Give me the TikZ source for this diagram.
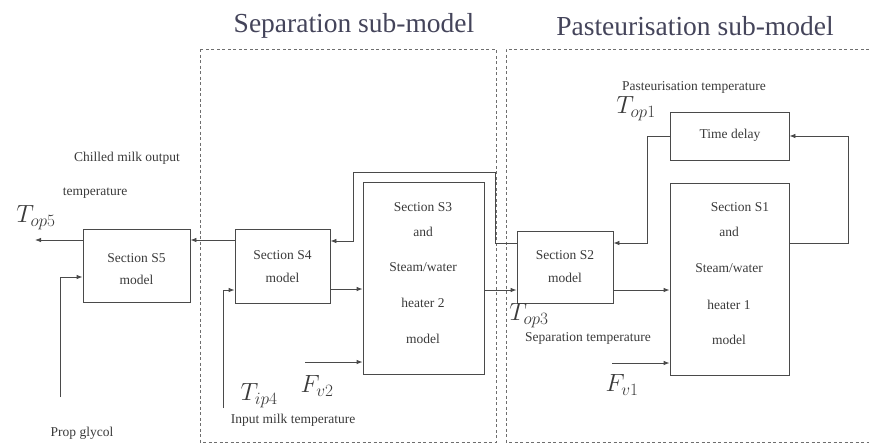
\documentclass[tikz,border=0pt]{standalone}
\usepackage{fontspec}
\setmainfont{Liberation Serif}
\usetikzlibrary{arrows.meta}
\definecolor{ln}{HTML}{4A4A4A}
\definecolor{tx}{HTML}{3A3A3A}
\definecolor{ttl}{HTML}{44445A}
\begin{document}
\begin{tikzpicture}[x=1pt,y=-1pt,
  box/.style={draw=ln,line width=0.8pt,rectangle,inner sep=0pt},
  txt/.style={text=tx,inner sep=0pt,font=\fontsize{13.5}{16}\selectfont},
  ttlstyle/.style={text=ttl,inner sep=0pt,font=\fontsize{27.5}{32}\selectfont},
  mth/.style={text=tx,inner sep=0pt,font=\fontsize{27}{31}\selectfont},
  arr/.style={draw=ln,line width=0.8pt,-{Latex[length=6pt,width=4.5pt]}},
  dsh/.style={draw=ln!80,line width=0.7pt,dash pattern=on 3pt off 2.5pt}]
\useasboundingbox (0,0) rectangle (869,445);
% sub-model frames
\draw[dsh] (200,49) rectangle (496,442);
\draw[dsh] (869,49) -- (506,49) -- (506,442) -- (869,442);
\node[ttlstyle] (t1) at (354,26) {Separation sub-model};
\node[ttlstyle] (t2) at (695,26) {Pasteurisation sub-model};
% boxes
\node[box,minimum width=107pt,minimum height=73pt] (s5) at (136.5,265.5) {};
\node[box,minimum width=95pt,minimum height=74pt] (s4) at (282.5,266) {};
\node[box,minimum width=121pt,minimum height=192pt] (s3) at (423.5,278) {};
\node[box,minimum width=96pt,minimum height=72pt] (s2) at (565,267) {};
\node[box,minimum width=119pt,minimum height=192pt] (s1) at (729.5,279) {};
\node[box,minimum width=119pt,minimum height=48pt] (td) at (729.5,136) {};
% box texts
\node[txt] (s5a) at (136.5,258) {Section S5};
\node[txt] (s5b) at (136.5,280) {model};
\node[txt] (s4a) at (282.5,255) {Section S4};
\node[txt] (s4b) at (282.5,278) {model};
\node[txt] (s3a) at (423,207) {Section S3};
\node[txt] (s3b) at (423,232) {and};
\node[txt] (s3c) at (423,267) {Steam/water};
\node[txt] (s3d) at (423,303) {heater 2};
\node[txt] (s3e) at (423,339) {model};
\node[txt] (s2a) at (565,255) {Section S2};
\node[txt] (s2b) at (565,278) {model};
\node[txt] (s1a) at (740,207) {Section S1};
\node[txt] (s1b) at (729,232) {and};
\node[txt] (s1c) at (729,268) {Steam/water};
\node[txt] (s1d) at (729,305) {heater 1};
\node[txt] (s1e) at (729,340) {model};
\node[txt] (tda) at (730,135) {Time delay};
% free labels
\node[txt] (l1) at (127,158) {Chilled milk output};
\node[txt] (l2) at (95,193) {temperature};
\node[mth] (top5) at (36,218) {$T_{op5}$};
\node[txt] (l3) at (82,433) {Prop glycol};
\node[mth] (tip4) at (259,396) {$T_{ip4}$};
\node[mth] (fv2) at (317,386) {$F_{v2}$};
\node[txt] (l4) at (293,420) {Input milk temperature};
\node[mth] (top1) at (636,109) {$T_{op1}$};
\node[txt] (l5) at (694,87) {Pasteurisation temperature};
\node[mth] (top3) at (529,316) {$T_{op3}$};
\node[txt] (l6) at (588,338) {Separation temperature};
\node[mth] (fv1) at (622,385) {$F_{v1}$};
% free ends
\coordinate (o5) at (35,240);
\coordinate (pg) at (60,397);
\coordinate (ti) at (223,408);
\coordinate (f2) at (305,362);
\coordinate (f1) at (612,363);
% connectors
\draw[arr] (s4.west |- 0,240) -- (s5.east |- 0,240);
\draw[arr] (s5.west |- 0,240) -- (o5);
\draw[arr] (pg) |- (s5.west |- 0,277);
\draw[arr] (ti) |- (s4.west |- 0,290);
\draw[arr] (s4.east |- 0,289) -- (s3.west |- 0,289);
\draw[arr] (f2) -- (s3.west |- f2);
\draw[arr] (s3.east |- 0,290) -- (s2.west |- 0,290);
\draw[arr] (s2.west |- 0,243) -| (495,172) -| (353,241) -- (s4.east |- 0,241);
\draw[arr] (s2.east |- 0,290) -- (s1.west |- 0,290);
\draw[arr] (f1) -- (s1.west |- f1);
\draw[arr] (td.west) -| (647,243) -- (s2.east |- 0,243);
\draw[arr] (s1.east |- 0,243) -| (848,136) -- (td.east);
\end{tikzpicture}
\end{document}
